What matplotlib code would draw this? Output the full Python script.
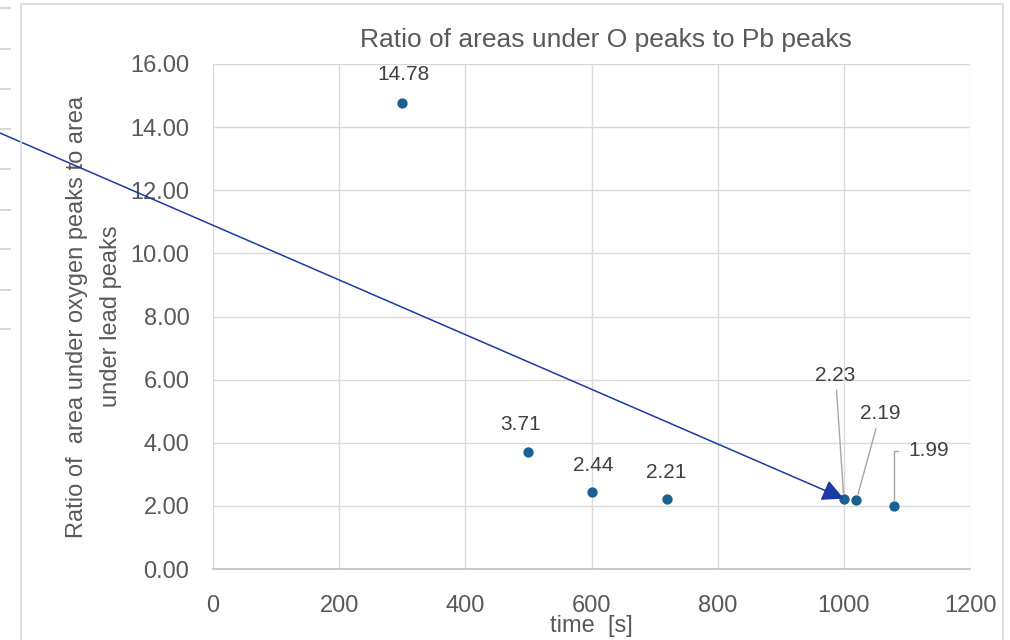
import matplotlib
matplotlib.use("Agg")
import matplotlib.pyplot as plt
from matplotlib.lines import Line2D
from matplotlib.patches import Rectangle

plt.rcParams['font.family'] = ['Liberation Sans', 'DejaVu Sans']

# measurement times [s] and O/Pb peak-area ratios
time_s = [300, 500, 600, 720, 1000, 1020, 1080]
ratio = [14.78, 3.71, 2.44, 2.21, 2.23, 2.19, 1.99]
value_labels = ["14.78", "3.71", "2.44", "2.21", "2.23", "2.19", "1.99"]

x_ticks = [0, 200, 400, 600, 800, 1000, 1200]
y_ticks = [0, 2, 4, 6, 8, 10, 12, 14, 16]

title = "Ratio of areas under O peaks to Pb peaks"
x_title = "time  [s]"
y_title = "Ratio of  area under oxygen peaks to area\nunder lead peaks"

text_grey = "#595959"
label_grey = "#404040"
grid_grey = "#d9d9d9"
marker_blue = "#1c5f91"
arrow_blue = "#1a3aa6"

fig = plt.figure(figsize=(10.1, 6.4), dpi=100)
ax = fig.add_axes([213 / 1010, 1 - 569 / 640, (970 - 213) / 1010, (569 - 64) / 640])

ax.scatter(time_s, ratio, s=55, color=marker_blue, zorder=3, linewidths=0)

ax.set_xlim(0, 1200)
ax.set_ylim(0, 16)
ax.set_xticks(x_ticks)
ax.set_yticks(y_ticks)
ax.set_yticklabels([f"{v:.2f}" for v in y_ticks])
ax.tick_params(axis="both", length=0, labelsize=17, colors=text_grey)
ax.tick_params(axis="y", pad=17)
ax.tick_params(axis="x", pad=18.5)
ax.grid(True, color=grid_grey, lw=1)
ax.set_axisbelow(True)
for side in ("top", "right", "left"):
    ax.spines[side].set_visible(False)
ax.spines["bottom"].set_color("#bfbfbf")
ax.spines["bottom"].set_linewidth(1.2)

ax.set_xlabel(x_title, fontsize=17, color=text_grey, va="center")
ax.xaxis.set_label_coords(0.5, (569 - 626) / 505)
ax.set_ylabel(y_title, fontsize=17, color=text_grey, linespacing=1.75,
              va="center", ha="center")
ax.yaxis.set_label_coords((94 - 213) / 757, 0.5)

fig.text(606 / 1010, 1 - 40 / 640, title, fontsize=19, color=text_grey,
         ha="center", va="center")

# value labels: plain ones sit above their markers, crowded ones get leaders
offsets = {
    0: (1, 20),
    1: (-6, 20),
    2: (1, 19),
    3: (-1, 19),
}
for i, (dx, dy) in offsets.items():
    ax.annotate(value_labels[i], (time_s[i], ratio[i]), xytext=(dx, dy),
                textcoords="offset points", ha="center", va="center",
                fontsize=15, color=label_grey, zorder=4)

leader = dict(arrowstyle="-", color="#a6a6a6", lw=1, shrinkA=2, shrinkB=4)
ax.annotate(value_labels[4], (time_s[4], ratio[4]), xytext=(-6, 89),
            textcoords="offset points", ha="center", va="center",
            fontsize=15, color=label_grey, arrowprops=leader, zorder=4)
ax.annotate(value_labels[5], (time_s[5], ratio[5]), xytext=(17, 62),
            textcoords="offset points", ha="center", va="center",
            fontsize=15, color=label_grey, arrowprops=leader, zorder=4)
ax.annotate(value_labels[6], (time_s[6], ratio[6]), xytext=(25, 40),
            textcoords="offset points", ha="center", va="center",
            fontsize=15, color=label_grey, zorder=4,
            arrowprops=dict(arrowstyle="-", color="#a6a6a6", lw=1,
                            shrinkA=6, shrinkB=4,
                            connectionstyle="angle,angleA=180,angleB=90,rad=0"))

# long blue pointer ending on the 1000 s measurement
ax.annotate("", xy=(time_s[4], ratio[4]), xycoords="data",
            xytext=(0, 1 - 133 / 640), textcoords="figure fraction",
            annotation_clip=False, zorder=5,
            arrowprops=dict(arrowstyle="-|>,head_length=0.6,head_width=0.3",
                            color=arrow_blue, lw=1.1,
                            mutation_scale=22, shrinkA=0, shrinkB=0))

# chart-area frame and neighbouring sheet cell edges
fig.patches.append(Rectangle((21 / 1010, -0.1), (1003 - 21) / 1010, 1.1 - 4 / 640,
                             transform=fig.transFigure, fill=False,
                             edgecolor=grid_grey, lw=1.2))
for yp in (8, 49, 89, 129, 169, 210, 249, 290, 329):
    fig.lines.append(Line2D([0, 10 / 1010], [1 - yp / 640] * 2,
                            transform=fig.transFigure, color=grid_grey, lw=1.5))

fig.savefig("out.png", dpi=100)
